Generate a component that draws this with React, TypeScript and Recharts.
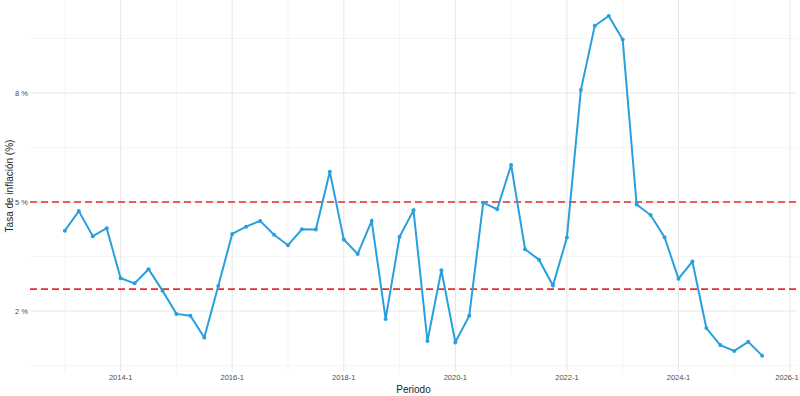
import React from 'react';
import { LineChart, Line, XAxis, YAxis, ReferenceLine } from 'recharts';

const periods: string[] = [
  '2013-1','2013-2','2013-3','2013-4',
  '2014-1','2014-2','2014-3','2014-4',
  '2015-1','2015-2','2015-3','2015-4',
  '2016-1','2016-2','2016-3','2016-4',
  '2017-1','2017-2','2017-3','2017-4',
  '2018-1','2018-2','2018-3','2018-4',
  '2019-1','2019-2','2019-3','2019-4',
  '2020-1','2020-2','2020-3','2020-4',
  '2021-1','2021-2','2021-3','2021-4',
  '2022-1','2022-2','2022-3','2022-4',
  '2023-1','2023-2','2023-3','2023-4',
  '2024-1','2024-2','2024-3','2024-4',
  '2025-1','2025-2','2025-3',
];

const inflation: number[] = [
  4.21, 4.75, 4.06, 4.28,
  2.90, 2.76, 3.15, 2.56,
  1.92, 1.87, 1.27, 2.69,
  4.12, 4.32, 4.48, 4.10,
  3.81, 4.25, 4.24, 5.83,
  3.97, 3.57, 4.48, 1.78,
  4.04, 4.77, 1.17, 3.12,
  1.14, 1.87, 4.98, 4.80,
  6.02, 3.70, 3.41, 2.70,
  4.02, 8.08, 9.85, 10.12,
  9.47, 4.93, 4.64, 4.03,
  2.89, 3.36, 1.53, 1.06,
  0.90, 1.15, 0.77,
];

const upperLimit = 5.0;
const lowerLimit = 2.6;

const xTickLabels: string[] = ['2014-1', '2016-1', '2018-1', '2020-1', '2022-1', '2024-1', '2026-1'];
const xMinorLabels: string[] = ['2013-1', '2015-1', '2017-1', '2019-1', '2021-1', '2023-1', '2025-1'];
const yTicks: number[] = [2, 5, 8];
const yMinor: number[] = [0.5, 3.5, 6.5, 9.5];

const periodIndex = (p: string): number => {
  const [y, q] = p.split('-').map(Number);
  return (y - 2013) * 4 + (q - 1);
};

const data = periods.map((p, i) => ({ t: periodIndex(p), label: p, value: inflation[i] }));
const xTicks = xTickLabels.map(periodIndex);
const xMinor = xMinorLabels.map(periodIndex);
const indexToLabel = (t: number): string => `${2013 + Math.floor(t / 4)}-${(t % 4) + 1}`;

const FONT = '"Liberation Sans", Arial, sans-serif';
const LINE_COLOR = '#2A9FDE';
const MINOR = '#efefef';
const MAJOR = '#e8e8e8';

const XTick = (props: any) => {
  const { x, y, payload } = props;
  const cx = Math.min(x, 787);
  return (
    <text
      x={cx}
      y={y}
      dy="0.71em"
      textAnchor="middle"
      style={{ fontSize: 7.5, fill: '#4d4d4d', fontFamily: FONT }}
    >
      {indexToLabel(payload.value)}
    </text>
  );
};

export default function App() {
  return (
    <div style={{ position: 'absolute', left: 0, top: 0, width: 800, height: 396, background: '#fff' }}>
      <LineChart width={800} height={396} data={data} margin={{ top: 0, right: 3, bottom: 0, left: 0 }}>
        {yMinor.map((v) => (
          <ReferenceLine key={`ym${v}`} y={v} stroke={MINOR} strokeWidth={0.6} />
        ))}
        {xMinor.map((v) => (
          <ReferenceLine key={`xm${v}`} x={v} stroke={MINOR} strokeWidth={0.6} />
        ))}
        {yTicks.map((v) => (
          <ReferenceLine key={`yM${v}`} y={v} stroke={MAJOR} strokeWidth={1.1} />
        ))}
        {xTicks.map((v) => (
          <ReferenceLine key={`xM${v}`} x={v} stroke={MAJOR} strokeWidth={1.1} />
        ))}
        <XAxis
          dataKey="t"
          type="number"
          domain={[-2.5, 52.5]}
          ticks={xTicks}
          tickFormatter={indexToLabel}
          axisLine={false}
          tickLine={false}
          tickSize={0}
          tickMargin={3}
          height={24}
          interval={0}
          allowDataOverflow
          tick={<XTick />}
          label={{ value: 'Periodo', position: 'insideBottom', offset: 3, style: { fontSize: 10, fill: '#222', fontFamily: FONT } }}
        />
        <YAxis
          type="number"
          domain={[0.32, 10.56]}
          ticks={yTicks}
          tickFormatter={(v: number) => `${v} %`}
          axisLine={false}
          tickLine={false}
          tickSize={0}
          tickMargin={2}
          width={30}
          allowDataOverflow
          tick={{ fontSize: 7.5, fill: '#4d4d4d', fontFamily: FONT }}
          label={{
            content: () => (
              <text
                x={9}
                y={186}
                transform="rotate(-90 9 186)"
                textAnchor="middle"
                dominantBaseline="central"
                style={{ fontSize: 10, fill: '#222', fontFamily: FONT }}
              >
                Tasa de inflación (%)
              </text>
            ),
          }}
        />
        <ReferenceLine y={upperLimit} stroke="#EE2A2A" strokeWidth={1.7} strokeDasharray="7 4" />
        <ReferenceLine y={lowerLimit} stroke="#EE2A2A" strokeWidth={1.7} strokeDasharray="7 4" />
        <Line
          type="linear"
          dataKey="value"
          stroke={LINE_COLOR}
          strokeWidth={2}
          dot={{ r: 2, fill: LINE_COLOR, stroke: 'none' }}
          activeDot={false}
          isAnimationActive={false}
        />
      </LineChart>
    </div>
  );
}
